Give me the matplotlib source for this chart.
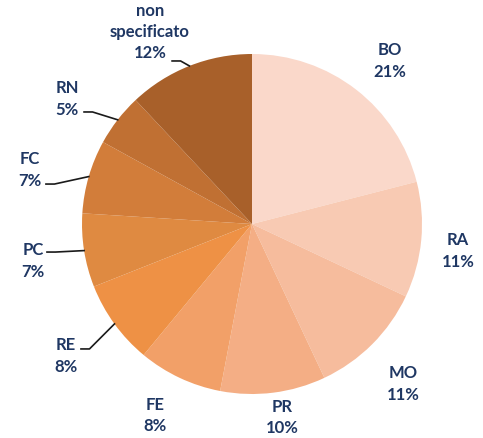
import numpy as np
import matplotlib

matplotlib.use("Agg")
import matplotlib.pyplot as plt

# provinces, clockwise from 12 o'clock
labels = ["BO", "RA", "MO", "PR", "FE", "RE", "PC", "FC", "RN", "non\nspecificato"]
shares = [21, 11, 11, 10, 8, 8, 7, 7, 5, 12]
colors = ["#FAD8CA", "#F8CAB3", "#F6BC9D", "#F4AE85", "#F2A068", "#EE9145",
          "#DF8A41", "#D27D3A", "#C07033", "#A8602A"]

# label centres in pie units (centre = 0,0, radius = 1)
label_pos = [(0.812, 0.965), (1.212, -0.153), (0.888, -0.935), (0.176, -1.132),
             (-0.571, -1.121), (-1.094, -0.771), (-1.288, -0.212), (-1.306, 0.324),
             (-1.088, 0.741), (-0.60, 1.135)]
# where the leader line leaves the label (only the small slices on the left have one)
leader_start = {5: (-1.006, -0.735), 6: (-1.206, -0.165), 7: (-1.212, 0.235),
                8: (-0.988, 0.659), 9: (-0.47, 0.959)}

TEXT = "#1F3763"

fig = plt.figure(figsize=(4.83, 4.39), dpi=100)
ax = fig.add_axes([0, 0, 1, 1])
wedges, _ = ax.pie(shares, colors=colors, startangle=90, counterclock=False, radius=1,
                   wedgeprops=dict(linewidth=0))

cum = np.cumsum([0] + shares)
total = sum(shares)
for i, (lab, val) in enumerate(zip(labels, shares)):
    x, y = label_pos[i]
    ax.text(x, y, f"{lab}\n{val}%", ha="center", va="center", fontsize=12,
            fontweight="bold", color=TEXT, family="Lato", linespacing=1.4)
    if i in leader_start:
        mid = (cum[i] + cum[i + 1]) / 2 / total
        ang = np.deg2rad(90 - 360 * mid)
        ex, ey = np.cos(ang), np.sin(ang)
        sx, sy = leader_start[i]
        ax.plot([sx, sx + 0.05, ex], [sy, sy, ey], color="#1a1a1a", lw=1.2,
                solid_joinstyle="round")

ax.set_xlim((0 - 252) / 170, (483 - 252) / 170)
ax.set_ylim((225 - 439) / 170, (225 - 0) / 170)
ax.set_aspect("equal")
ax.axis("off")
fig.savefig("out.png", dpi=100)
